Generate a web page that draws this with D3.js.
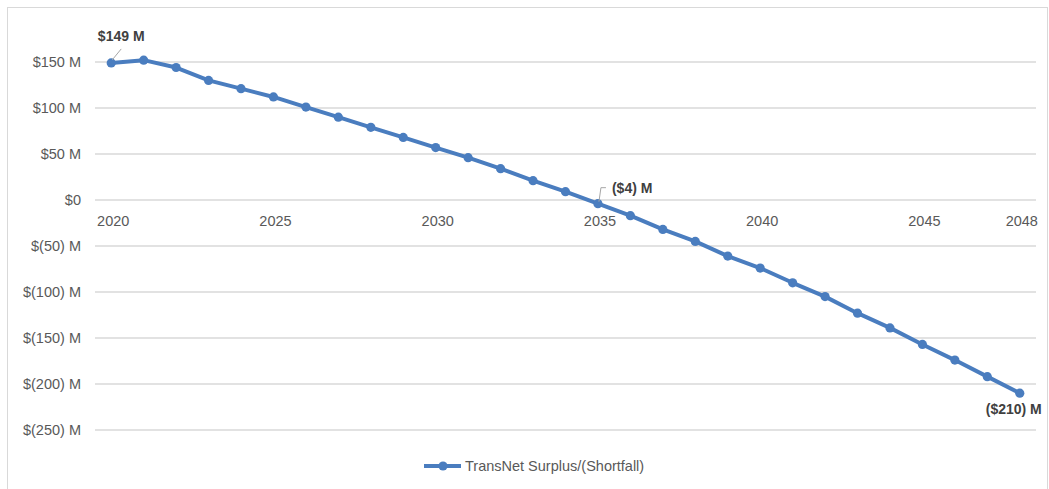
<!DOCTYPE html>
<html><head><meta charset="utf-8">
<script src="https://cdn.jsdelivr.net/npm/d3@7/dist/d3.min.js"></script>
<style>body{margin:0;background:#fff}svg{display:block}text{font-family:"Liberation Sans",Arial,sans-serif}</style>
</head><body>
<script>
const years = d3.range(2020, 2049).map(String);
const values = [149,152,144,130,121,112,101,90,79,68,57,46,34,21,9,-4,-17,-32,-45,-61,-74,-90,-105,-123,-139,-157,-174,-192,-210];
const yTicks = [150,100,50,0,-50,-100,-150,-200,-250];
const xTickLabels = ["2020","2025","2030","2035","2040","2045","2048"];
const seriesName = "TransNet Surplus/(Shortfall)";
const labeled = {"2020":"$149 M","2035":"($4) M","2048":"($210) M"};

const W=1049,H=489;
const svg=d3.select("body").append("svg").attr("width",W).attr("height",H);
svg.append("rect").attr("x",7.5).attr("y",7.5).attr("width",W-9).attr("height",H-6).attr("fill","#fff").attr("stroke","#d9d9d9");

const x=d3.scaleBand().domain(years).range([95,1036]);
const y=d3.scaleLinear().domain([-250,150]).range([430,62]);
const cx=d=>x(d)+x.bandwidth()/2;

const fmt=v=>v===0?"$0":(v<0?"$("+(-v)+") M":"$"+v+" M");
const ga=svg.append("g");
yTicks.forEach(t=>{
  ga.append("line").attr("x1",95).attr("x2",1036).attr("y1",y(t)).attr("y2",y(t)).attr("stroke","#d9d9d9").attr("stroke-width",1.3);
  ga.append("text").attr("x",81).attr("y",y(t)).attr("dy","0.35em").attr("text-anchor","end").attr("font-size",14.5).attr("fill","#595959").text(fmt(t));
});
xTickLabels.forEach(t=>{
  ga.append("text").attr("x",cx(t)+2).attr("y",221).attr("dy","0.35em").attr("text-anchor","middle").attr("font-size",14.5).attr("fill","#595959").text(t);
});

const col="#4a7dbf";
const line=d3.line().x((d,i)=>cx(years[i])).y(d=>y(d));
svg.append("path").datum(values).attr("d",line).attr("fill","none").attr("stroke",col).attr("stroke-width",4).attr("stroke-linejoin","round");
svg.selectAll("circle.pt").data(values).join("circle").attr("class","pt").attr("cx",(d,i)=>cx(years[i])).attr("cy",d=>y(d)).attr("r",4.6).attr("fill",col);

// data labels
const lab=svg.append("g").attr("font-size",14).attr("font-weight","bold").attr("fill","#404040");
const p0=[cx("2020"),y(values[0])];
svg.append("line").attr("x1",p0[0]+1).attr("y1",p0[1]-3).attr("x2",p0[0]+10).attr("y2",p0[1]-14).attr("stroke","#a6a6a6");
lab.append("text").attr("x",p0[0]+10).attr("y",36).attr("dy","0.35em").attr("text-anchor","middle").text(labeled["2020"]);
const p1=[cx("2035"),y(values[15])];
svg.append("path").attr("d",`M${p1[0]+1},${p1[1]-2}L${p1[0]+3},${p1[1]-16}L${p1[0]+8},${p1[1]-16}`).attr("fill","none").attr("stroke","#a6a6a6");
lab.append("text").attr("x",p1[0]+14).attr("y",188).attr("dy","0.35em").text(labeled["2035"]);
const p2=[cx("2048"),y(values[28])];
lab.append("text").attr("x",p2[0]-6).attr("y",p2[1]+16).attr("dy","0.35em").attr("text-anchor","middle").text(labeled["2048"]);

// legend
const lg=svg.append("g");
lg.append("line").attr("x1",424).attr("x2",461).attr("y1",466).attr("y2",466).attr("stroke",col).attr("stroke-width",4);
lg.append("circle").attr("cx",443).attr("cy",466).attr("r",4.6).attr("fill",col);
lg.append("text").attr("x",465).attr("y",466).attr("dy","0.35em").attr("font-size",14.5).attr("fill","#595959").text(seriesName);
</script>
</body></html>
